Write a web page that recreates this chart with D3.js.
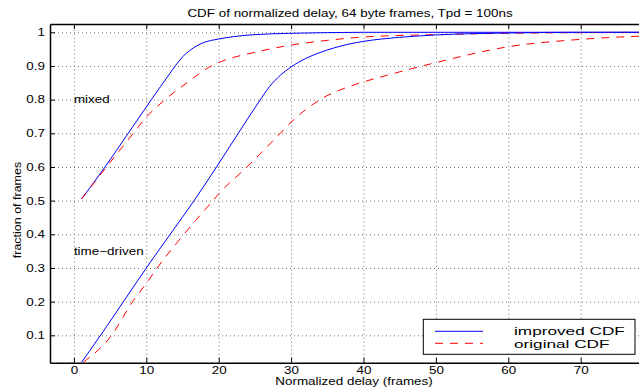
<!DOCTYPE html>
<html>
<head>
<meta charset="utf-8">
<script src="https://cdn.jsdelivr.net/npm/d3@7"></script>
<style>
  body { margin: 0; background: #fff; }
  text { font-family: "Liberation Sans", Arial, sans-serif; }
</style>
</head>
<body>
<div class="vis-cdf"></div>
<script>
// ---- data ----
const xTicks = [0, 10, 20, 30, 40, 50, 60, 70];
const yTicks = [0.1, 0.2, 0.3, 0.4, 0.5, 0.6, 0.7, 0.8, 0.9, 1];

// mixed traffic
const mixedImprovedX = [1.06, 4.3, 7.5, 10.7, 12, 13, 14, 15, 16, 17, 18, 19, 20, 22, 25, 30, 35, 40, 50, 60, 80];
const mixedImprovedY = [0.505, 0.6, 0.7, 0.8, 0.84, 0.87, 0.9, 0.927, 0.946, 0.96, 0.97, 0.976, 0.98, 0.987, 0.993, 0.997, 0.999, 1, 1, 1, 1];
const mixedOriginalX = [1.06, 4.5, 8.2, 10, 12.6, 15.8, 19, 20, 25.5, 30, 35, 40, 50, 60, 70, 80];
const mixedOriginalY = [0.505, 0.6, 0.7, 0.748, 0.8, 0.853, 0.9, 0.91, 0.943, 0.962, 0.976, 0.986, 0.993, 0.997, 0.999, 1];

// time-driven traffic
const timeImprovedX = [1.06, 4, 7, 10, 13.3, 16.6, 19.7, 22.7, 25.6, 27, 28.5, 30, 32, 34, 36, 38, 40, 45, 50, 60, 70, 80];
const timeImprovedY = [0.02, 0.11, 0.205, 0.3, 0.4, 0.5, 0.6, 0.7, 0.795, 0.838, 0.872, 0.897, 0.922, 0.94, 0.954, 0.965, 0.973, 0.985, 0.992, 0.998, 1, 1];
const timeOriginalX = [1.3, 5.2, 8.1, 10, 11.5, 15.2, 19.2, 20, 23.9, 28.5, 30, 34, 39, 42.2, 50, 60, 70, 80];
const timeOriginalY = [0.02, 0.1, 0.2, 0.254, 0.3, 0.4, 0.5, 0.52, 0.6, 0.7, 0.733, 0.8, 0.846, 0.866, 0.91, 0.957, 0.979, 0.99];

const series = [
  { xs: mixedImprovedX, ys: mixedImprovedY, kind: "improved" },
  { xs: mixedOriginalX, ys: mixedOriginalY, kind: "original" },
  { xs: timeImprovedX, ys: timeImprovedY, kind: "improved" },
  { xs: timeOriginalX, ys: timeOriginalY, kind: "original" }
];

const W = 639, H = 387;
const SX = 1.28; // text in the figure is stretched horizontally

let svg = d3.select(".vis-cdf").append("svg")
  .attr("width", W).attr("height", H);

// plot box (right side is cut off by the window)
const mLeft = 50, mTop = 24, mBottom = 362.7;
let x = d3.scaleLinear().domain([-3.3, 80]).range([mLeft, mLeft + 83.3 * 7.24]);
let y = d3.scaleLinear().domain([0.0187, 1.0246]).range([mBottom, mTop]);

// grid
svg.append("g")
  .attr("class", "grid")
  .attr("transform", "translate(0," + mBottom + ")")
  .call(d3.axisBottom(x).tickValues(xTicks).tickSize(-(mBottom - mTop)).tickFormat(""))
  .call(g => g.select(".domain").remove());
svg.append("g")
  .attr("class", "grid")
  .attr("transform", "translate(" + mLeft + ",0)")
  .call(d3.axisLeft(y).tickValues(yTicks).tickSize(-(W - mLeft)).tickFormat(""))
  .call(g => g.select(".domain").remove());
svg.selectAll(".grid line")
  .attr("stroke", "#707070")
  .attr("stroke-width", 1)
  .attr("stroke-dasharray", "1,3");

// curves
let line = d3.line()
  .x(d => x(d[0]))
  .y(d => y(d[1]))
  .curve(d3.curveMonotoneX);

series.forEach(function (s) {
  let pts = s.xs.map((v, i) => [v, s.ys[i]]);
  svg.append("path")
    .datum(pts)
    .attr("fill", "none")
    .attr("stroke", s.kind === "improved" ? "#0000ff" : "#ff0000")
    .attr("stroke-width", 1)
    .attr("stroke-dasharray", s.kind === "improved" ? null : "8,7")
    .attr("d", line);
});

// axes
let xAxis = svg.append("g")
  .attr("transform", "translate(0," + mBottom + ")")
  .call(d3.axisBottom(x).tickValues(xTicks).tickSize(-5).tickPadding(4).tickSizeOuter(0));
let xTop = svg.append("g")
  .attr("transform", "translate(0," + mTop + ")")
  .call(d3.axisTop(x).tickValues(xTicks).tickSize(-5).tickSizeOuter(0).tickFormat(""));
let yAxis = svg.append("g")
  .attr("transform", "translate(" + mLeft + ",0)")
  .call(d3.axisLeft(y).tickValues(yTicks).tickSize(-5).tickSizeOuter(0)
    .tickFormat(d => d === 1 ? "1" : d.toFixed(1)));

[xAxis, xTop, yAxis].forEach(function (g) {
  g.select(".domain").attr("stroke", "#000").attr("stroke-width", 1.5);
  g.selectAll(".tick line").attr("stroke", "#000").attr("stroke-width", 1);
  g.selectAll("text")
    .attr("fill", "#000")
    .style("font-size", "10.5px")
    .style("font-family", "Liberation Sans, Arial, sans-serif");
});
xAxis.selectAll("text").attr("transform", "scale(" + SX + ",1)");
yAxis.selectAll("text").attr("x", -4).attr("transform", "scale(" + SX + ",1)");

// labels
function stretched(tx, ty, str, size, anchor, sx) {
  return svg.append("text")
    .attr("transform", "translate(" + tx + "," + ty + ") scale(" + (sx || SX) + ",1)")
    .attr("text-anchor", anchor || "middle")
    .style("font-size", size + "px")
    .text(str);
}
stretched(350, 17, "CDF of normalized delay, 64 byte frames, Tpd = 100ns", 10.5);
stretched(354, 385, "Normalized delay (frames)", 10.5);
svg.append("text")
  .attr("transform", "translate(21,210) rotate(-90) scale(1.25,1)")
  .attr("text-anchor", "middle")
  .style("font-size", "10px")
  .text("fraction of frames");

stretched(x(0), y(0.8) + 3.7, "mixed", 10.5, "start");
stretched(x(0), y(0.35) + 3.7, "time\u2212driven", 10.5, "start");

// legend
let lg = svg.append("g");
lg.append("rect")
  .attr("x", 423.3).attr("y", 319.3)
  .attr("width", 211.7).attr("height", 35)
  .attr("fill", "#fff").attr("stroke", "#000").attr("stroke-width", 1);
lg.append("line")
  .attr("x1", 435).attr("x2", 483).attr("y1", 331.3).attr("y2", 331.3)
  .attr("stroke", "#0000ff").attr("stroke-width", 1);
lg.append("line")
  .attr("x1", 435).attr("x2", 483).attr("y1", 343.3).attr("y2", 343.3)
  .attr("stroke", "#ff0000").attr("stroke-width", 1).attr("stroke-dasharray", "8,7");
stretched(514, 335.2, "improved CDF", 11.4, "start", 1.51);
stretched(514, 348.1, "original CDF", 11.4, "start", 1.51);
</script>
</body>
</html>
